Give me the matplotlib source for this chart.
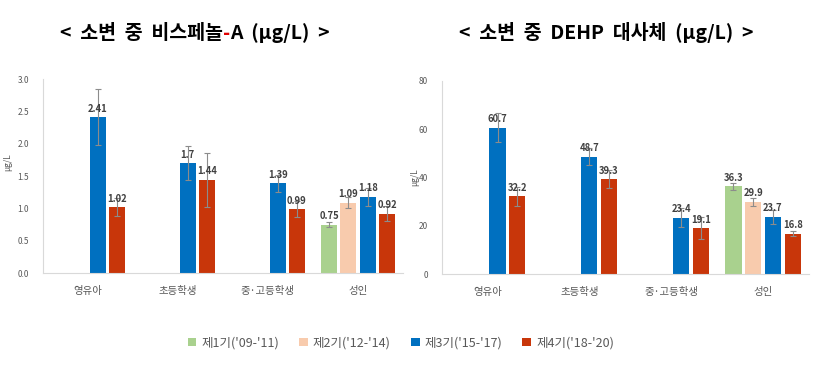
import numpy as np
import matplotlib
matplotlib.use('Agg')
import matplotlib.pyplot as plt
from matplotlib.patches import Patch

plt.rcParams['font.family'] = ['Noto Sans CJK KR', 'DejaVu Sans']

categories = ['영유아', '초등학생', '중·고등학생', '성인']
periods = ["제1기('09-'11)", "제2기('12-'14)", "제3기('15-'17)", "제4기('18-'20)"]
colors = ['#A9D18E', '#F8CBAD', '#0070C0', '#C8360A']

# 비스페놀-A, 기수별 (None = 자료 없음)
bpa_vals = [[None, None, None, 0.75],
            [None, None, None, 1.09],
            [2.41, 1.70, 1.39, 1.18],
            [1.02, 1.44, 0.99, 0.92]]
bpa_err = [[None, None, None, 0.04],
           [None, None, None, 0.08],
           [0.43, 0.26, 0.13, 0.14],
           [0.14, 0.42, 0.12, 0.11]]

# DEHP 대사체
dehp_vals = [[None, None, None, 36.3],
             [None, None, None, 29.9],
             [60.7, 48.7, 23.4, 23.7],
             [32.2, 39.3, 19.1, 16.8]]
dehp_err = [[None, None, None, 1.6],
            [None, None, None, 1.6],
            [6.0, 3.6, 4.0, 2.9],
            [4.0, 3.8, 4.7, 1.2]]

grey = '#595959'
label_col = '#404040'

fig = plt.figure(figsize=(8.18, 3.71), dpi=100)
ax1 = fig.add_axes([0.0526, 0.264, 0.440, 0.523])
ax2 = fig.add_axes([0.540, 0.261, 0.449, 0.521])


def draw(ax, vals, errs, ymax, step, fmt):
    x = np.arange(len(categories))
    slot = 0.215
    for i in range(len(periods)):
        for j in range(len(categories)):
            v = vals[i][j]
            if v is None:
                continue
            xx = x[j] + (i - 1.5) * slot
            ax.bar(xx, v, 0.178, color=colors[i], zorder=2)
            ax.errorbar(xx, v, yerr=errs[i][j], ecolor='#8c8c8c', elinewidth=0.8,
                        capsize=2, capthick=0.8, fmt='none', zorder=3)
            ax.annotate(fmt(v), (xx, v), xytext=(0, 2.5), textcoords='offset points',
                        ha='center', va='bottom', fontsize=6.8, fontweight='bold',
                        color=label_col, zorder=4)
    ax.set_xlim(-0.5, len(categories) - 0.5)
    ax.set_ylim(0, ymax)
    ax.set_yticks(np.arange(0, ymax + step / 2, step))
    ax.set_xticks(x)
    ax.set_xticklabels(categories, fontsize=7.5, color=grey)
    ax.tick_params(axis='x', length=0, pad=9)
    ax.tick_params(axis='y', length=0, labelsize=6, labelcolor=grey, pad=10)
    for s in ['top', 'right']:
        ax.spines[s].set_visible(False)
    for s in ['left', 'bottom']:
        ax.spines[s].set_color('#d9d9d9')
        ax.spines[s].set_linewidth(0.8)
    ax.set_ylabel('μg/L', fontsize=6, color=grey)


draw(ax1, bpa_vals, bpa_err, 3.0, 0.5, lambda v: f'{v:g}')
ax1.set_yticklabels([f'{t:.1f}' for t in ax1.get_yticks()])
draw(ax2, dehp_vals, dehp_err, 80, 20, lambda v: f'{v:.1f}')
ax1.yaxis.set_label_coords(-0.085, 0.57)
ax2.yaxis.set_label_coords(-0.06, 0.5)

# 제목 (하이픈만 빨간색)
tkw = dict(fontsize=14, fontweight='bold', annotation_clip=False)
t1 = fig.text(0.073, 0.895, '<  소변  중  비스페놀', fontsize=14, fontweight='bold',
              color='black', va='baseline')
hy = fig.add_artist(plt.Annotation('-', xy=(1, 0), xycoords=t1, ha='left', va='bottom',
                                   color='#E00000', **tkw))
fig.add_artist(plt.Annotation('A  (μg/L)  >', xy=(1, 0), xycoords=hy, ha='left',
                              va='bottom', color='black', **tkw))
fig.text(0.741, 0.895, '<  소변  중  DEHP  대사체  (μg/L)  >', ha='center',
         fontsize=14, fontweight='bold', color='black', va='baseline')

handles = [Patch(facecolor=c, edgecolor='none') for c in colors]
fig.legend(handles, periods, loc='center', bbox_to_anchor=(0.49, 0.076), ncol=4,
           frameon=False, fontsize=9, labelcolor=grey, handlelength=0.7,
           handleheight=0.7, handletextpad=0.4, columnspacing=1.6)

fig.savefig('out.png', dpi=100)
